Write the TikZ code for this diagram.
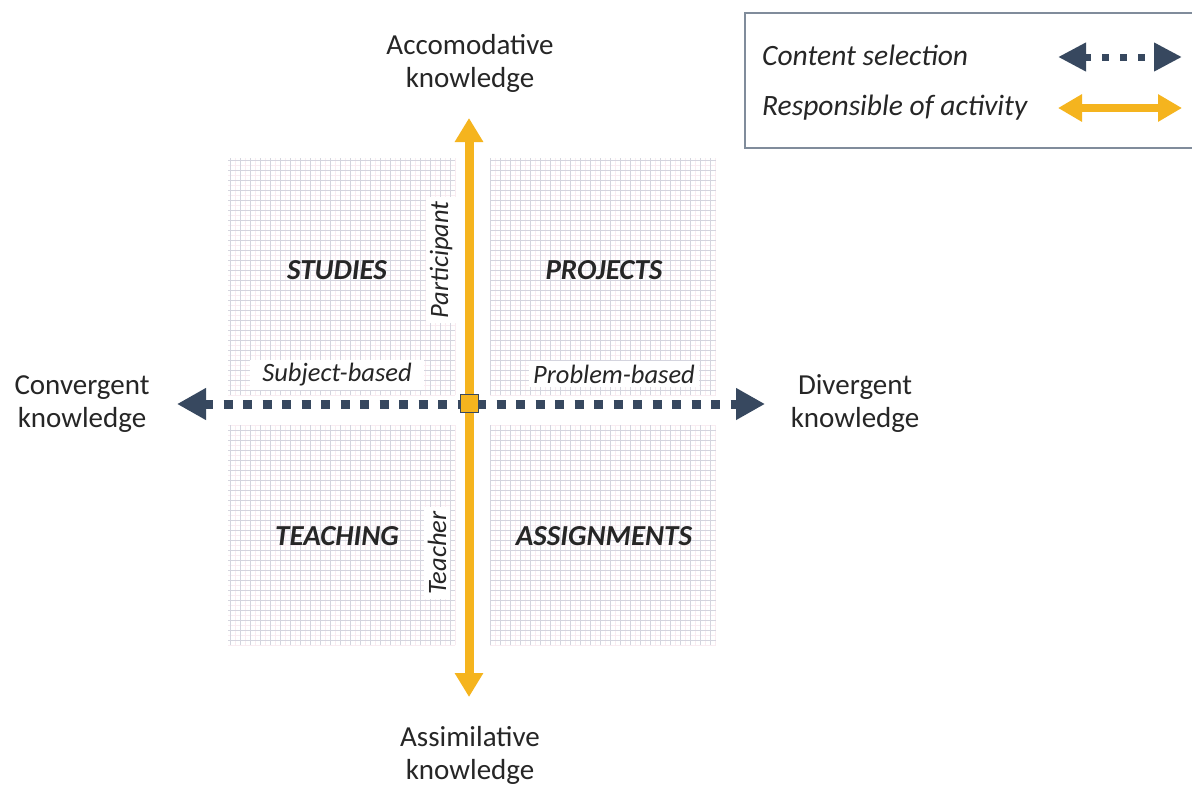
\documentclass[tikz,border=0pt]{standalone}
\usepackage{fontspec}
\setmainfont{Carlito}
\usetikzlibrary{arrows.meta}
\definecolor{gold}{RGB}{245,180,30}
\definecolor{navy}{RGB}{55,72,95}
\definecolor{gridgray}{RGB}{212,212,222}
\definecolor{gridpink}{RGB}{249,236,241}
\definecolor{legendgray}{RGB}{128,140,155}
\definecolor{txt}{RGB}{38,38,38}
\tikzset{
  minorgrid/.style={gridpink, line width=0.5pt, step=5pt},
  majorgrid/.style={gridgray, line width=0.6pt, step=10pt},
  axislabel/.style={font=\fontsize{29}{33}\selectfont, align=center, text=txt, inner sep=0pt},
  quad/.style={font=\fontsize{29}{32}\selectfont\bfseries\itshape, text=txt, inner sep=0pt},
  ital/.style={font=\fontsize{26.5}{30}\selectfont\itshape, text=txt, fill=white, inner sep=4pt},
  legtext/.style={font=\fontsize{29.5}{32}\selectfont\itshape, text=txt, inner sep=0pt, anchor=west},
  dotarrow/.style={navy, line width=9pt, dash pattern=on 9pt off 10.5pt,
     {Triangle[length=29pt,width=30pt]}-{Triangle[length=29pt,width=30pt]}},
  goldarrow/.style={gold, line width=9pt,
     {Triangle[length=24pt,width=27pt]}-{Triangle[length=24pt,width=27pt]}},
  legdot/.style={navy, line width=7pt, dash pattern=on 7pt off 11pt,
     {Triangle[length=28pt,width=27pt]}-{Triangle[length=28pt,width=27pt]}},
  leggold/.style={gold, line width=8pt,
     {Triangle[length=24pt,width=26pt]}-{Triangle[length=24pt,width=26pt]}},
  centersq/.style={draw=navy, fill=gold, line width=1.5pt, minimum size=18pt, inner sep=0pt},
  legendbox/.style={draw=legendgray, line width=1.5pt, fill=white}
}
\begin{document}
\begin{tikzpicture}[x=1pt,y=1pt]
\useasboundingbox (0,0) rectangle (1192,-785);
\fill[white] (0,0) rectangle (1192,-785);

% graph-paper quadrants
\draw[minorgrid] (228,-395) grid (455,-158);
\draw[majorgrid] (228,-395) grid (455,-158);
\draw[minorgrid] (490,-395) grid (716,-158);
\draw[majorgrid] (490,-395) grid (716,-158);
\draw[minorgrid] (228,-645) grid (455,-425);
\draw[majorgrid] (228,-645) grid (455,-425);
\draw[minorgrid] (490,-645) grid (716,-425);
\draw[majorgrid] (490,-645) grid (716,-425);

% axis labels
\node[axislabel] (acc) at (470,-63) {Accomodative\\knowledge};
\node[axislabel] (conv) at (82,-404) {Convergent\\knowledge};
\node[axislabel] (div) at (855,-404) {Divergent\\knowledge};
\node[axislabel] (assim) at (470,-755) {Assimilative\\knowledge};

% quadrant names
\node[quad] (studies) at (337,-270) {STUDIES};
\node[quad] (projects) at (604,-270) {PROJECTS};
\node[quad] (teaching) at (337,-536) {TEACHING};
\node[quad] (assign) at (604,-536) {ASSIGNMENTS};

% axis-side labels
\node[ital, inner xsep=12pt] (subj) at (337,-375) {Subject-based};
\node[ital] (prob) at (614,-374) {Problem-based};
\node[ital, rotate=90] (part) at (441,-260) {Participant};
\node[ital, rotate=90] (teach) at (437,-553) {Teacher};

% axes
\coordinate (top) at (469,-118);
\coordinate (bot) at (469,-697);
\coordinate (lft) at (177,-404);
\coordinate (rgt) at (765,-404);
\draw[dotarrow] (lft) -- (rgt);
\draw[goldarrow] (top) -- (bot);
\node[centersq] (c) at (469.5,-403.5) {};

% legend
\draw[legendbox] (745,-13) rectangle (1205,-148);
\node[legtext] (l1) at (762,-55) {Content selection};
\node[legtext] (l2) at (762,-108) {Responsible of activity};
\coordinate (la) at (1058,-57);
\coordinate (lb) at (1182,-57);
\coordinate (lc) at (1058,-108);
\coordinate (ld) at (1182,-108);
\draw[legdot] (la) -- (lb);
\draw[leggold] (lc) -- (ld);
\end{tikzpicture}
\end{document}
